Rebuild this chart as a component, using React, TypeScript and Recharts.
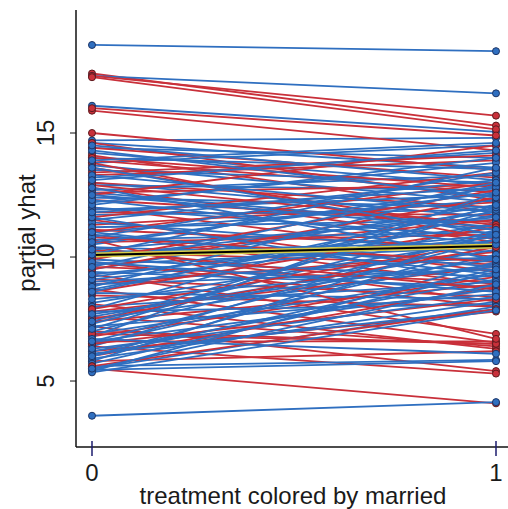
import { LineChart, Line, XAxis, YAxis } from 'recharts';

// start value (treatment = 0) and end value (treatment = 1) for each observation
const blueStart = [
  18.55, 17.3, 16.1, 14.7, 14.6, 14.4, 14.2, 14.0, 13.8, 13.7, 13.5, 13.2, 13.0, 12.9, 12.7, 12.6,
  12.4, 12.2, 12.0, 11.9, 11.7, 11.5, 11.4, 11.2, 11.0, 10.9, 10.7, 10.5, 10.4, 10.2, 10.0, 9.9,
  9.7, 9.5, 9.4, 9.2, 9.0, 8.9, 8.7, 8.55, 8.15, 8.0, 7.9, 7.8, 7.6, 7.5, 7.3, 7.2,
  7.0, 6.9, 6.8, 6.6, 6.5, 6.4, 6.2, 6.1, 6.0, 5.9, 5.8, 5.7, 5.6, 5.5, 5.45, 5.4,
  5.35, 3.6, 13.3, 12.1, 10.8, 9.8, 8.8, 7.4, 6.7, 11.6, 14.3, 13.6, 6.3, 12.8, 10.1, 8.3,
  14.5, 13.1, 12.3, 11.8, 11.0, 10.3, 9.6, 9.1, 8.6, 7.7, 7.1, 6.6, 6.0, 5.5, 12.5, 10.6,
  9.3, 13.9,
];
const blueEnd = [
  18.3, 16.6, 15.05, 14.8, 13.6, 14.0, 12.9, 13.55, 14.5, 12.2, 13.0, 14.2, 11.6, 12.7, 13.3, 11.2,
  12.0, 13.8, 10.8, 12.5, 11.9, 13.1, 10.2, 11.5, 12.3, 9.6, 11.0, 12.8, 9.9, 10.6, 11.8, 9.2,
  10.4, 12.1, 8.8, 11.3, 10.0, 9.5, 11.7, 8.3, 10.7, 9.0, 12.4, 8.1, 10.3, 9.7, 11.4, 8.5,
  10.9, 9.3, 12.6, 8.7, 10.1, 11.1, 9.1, 7.9, 10.5, 8.2, 11.0, 9.4, 5.85, 8.0, 5.8, 9.8,
  7.85, 4.15, 11.8, 14.0, 13.4, 8.6, 12.9, 11.9, 6.1, 9.0, 12.4, 10.9, 8.4, 9.9, 13.6, 9.6,
  13.1, 14.3, 10.5, 12.8, 9.3, 11.6, 13.0, 10.8, 12.0, 9.9, 12.1, 10.7, 9.5, 8.9, 11.1, 12.6,
  10.9, 14.6,
];
const redStart = [
  17.4, 17.3, 17.25, 15.9, 16.0, 15.0, 14.6, 14.4, 14.1, 13.9, 13.6, 13.3, 13.0, 12.8, 12.6, 12.3,
  12.0, 11.8, 11.5, 11.3, 11.1, 10.9, 10.6, 10.4, 10.2, 10.0, 9.8, 9.6, 9.3, 9.1, 8.9, 8.7,
  8.45, 8.1, 7.8, 7.6, 7.4, 7.2, 7.0, 6.8, 6.6, 6.4, 6.2, 6.0, 5.8, 5.5, 9.5, 11.0,
  12.5, 13.8, 7.9, 6.9, 10.7, 14.0, 12.9, 11.6, 10.8, 9.9, 8.6, 7.5, 6.5, 5.6, 13.4, 10.3,
];
const redEnd = [
  15.3, 15.7, 15.15, 14.3, 14.9, 13.5, 12.3, 13.2, 11.8, 12.6, 11.1, 13.9, 12.0, 10.6, 12.9, 11.4,
  10.0, 11.7, 9.4, 12.2, 10.4, 8.9, 10.9, 8.2, 9.7, 11.5, 8.0, 9.0, 6.9, 8.4, 10.2, 6.55,
  8.0, 6.3, 9.6, 6.4, 8.9, 5.4, 6.5, 9.2, 6.6, 5.3, 7.8, 8.8, 6.2, 4.1, 12.4, 13.0,
  14.5, 10.7, 10.6, 6.5, 6.7, 12.8, 11.3, 13.4, 9.8, 12.7, 11.2, 10.4, 8.3, 7.9, 14.1, 8.7,
];
// partial dependence (average) line
const meanValues = [10.08, 10.44];
const xTicks = [0, 1];
const yTicks = [5, 10, 15];

const BLUE = '#2f6fc0';
const BLUE_EDGE = '#1d3566';
const RED = '#c9303a';
const RED_EDGE = '#5e1a1e';

type Segment = { key: string; color: string; edge: string; data: { x: number; y: number }[] };

const segments: Segment[] = [];
const n = Math.max(blueStart.length, redStart.length);
for (let i = 0; i < n; i++) {
  if (i < blueStart.length) {
    segments.push({
      key: `b${i}`,
      color: BLUE,
      edge: BLUE_EDGE,
      data: [{ x: 0, y: blueStart[i] }, { x: 1, y: blueEnd[i] }],
    });
  }
  if (i < redStart.length) {
    segments.push({
      key: `r${i}`,
      color: RED,
      edge: RED_EDGE,
      data: [{ x: 0, y: redStart[i] }, { x: 1, y: redEnd[i] }],
    });
  }
}
const meanData = meanValues.map((v, i) => ({ x: xTicks[i], y: v }));

const FONT = '"Liberation Sans", Arial, Helvetica, sans-serif';

const XTick = ({ x, y, payload }: any) => {
  const axisY = y - 8;
  return (
    <g>
      <line x1={x} x2={x} y1={axisY - 6} y2={axisY + 9} stroke="#1c1c6e" strokeWidth={1.5} />
      <text x={x} y={axisY + 25} textAnchor="middle" dominantBaseline="central" fontSize={24} fontFamily={FONT} fill="#1a1a1a">
        {payload.value}
      </text>
    </g>
  );
};

const YTick = ({ x, y, payload }: any) => {
  const tx = x - 22;
  return (
    <text
      x={tx}
      y={y}
      transform={`rotate(-90 ${tx} ${y})`}
      textAnchor="middle"
      dominantBaseline="central"
      fontSize={24}
      fontFamily={FONT}
      fill="#1a1a1a"
    >
      {payload.value}
    </text>
  );
};

const XLabel = () => (
  <text x={293} y={504} textAnchor="middle" fontSize={24} fontFamily={FONT} fill="#1a1a1a">
    treatment colored by married
  </text>
);

const YLabel = () => (
  <text x={35} y={233} transform="rotate(-90 35 233)" textAnchor="middle" fontSize={24} fontFamily={FONT} fill="#1a1a1a">
    partial yhat
  </text>
);

export default function App() {
  return (
    <div style={{ position: 'absolute', left: 0, top: 0, background: '#fff' }}>
      <LineChart width={508} height={509} margin={{ top: 10, right: 0, bottom: 0, left: 0 }}>
        <XAxis
          dataKey="x"
          type="number"
          domain={[-0.0396, 1.0297]}
          allowDataOverflow
          ticks={xTicks}
          height={62}
          axisLine={{ stroke: '#111', strokeWidth: 1.5 }}
          tickLine={false}
          tick={<XTick />}
          label={<XLabel />}
        />
        <XAxis
          xAxisId="top"
          orientation="top"
          type="number"
          domain={[0, 1]}
          height={0}
          tick={false}
          tickLine={false}
          axisLine={{ stroke: '#111', strokeWidth: 1.5 }}
        />
        <YAxis
          type="number"
          domain={[2.34, 19.96]}
          allowDataOverflow
          ticks={yTicks}
          width={76}
          tickSize={6}
          axisLine={{ stroke: '#111', strokeWidth: 1.5 }}
          tickLine={{ stroke: '#111', strokeWidth: 1 }}
          tick={<YTick />}
          label={<YLabel />}
        />
        {segments.map((s) => (
          <Line
            key={s.key}
            data={s.data}
            dataKey="y"
            type="linear"
            stroke={s.color}
            strokeWidth={1.8}
            dot={{ r: 3.5, fill: s.color, stroke: s.edge, strokeWidth: 1 }}
            activeDot={false}
            isAnimationActive={false}
          />
        ))}
        <Line
          data={meanData}
          dataKey="y"
          type="linear"
          stroke="#d8cc48"
          strokeWidth={5}
          dot={false}
          activeDot={false}
          isAnimationActive={false}
        />
        <Line
          data={meanData}
          dataKey="y"
          type="linear"
          stroke="#000"
          strokeWidth={2}
          dot={false}
          activeDot={false}
          isAnimationActive={false}
        />
      </LineChart>
    </div>
  );
}
